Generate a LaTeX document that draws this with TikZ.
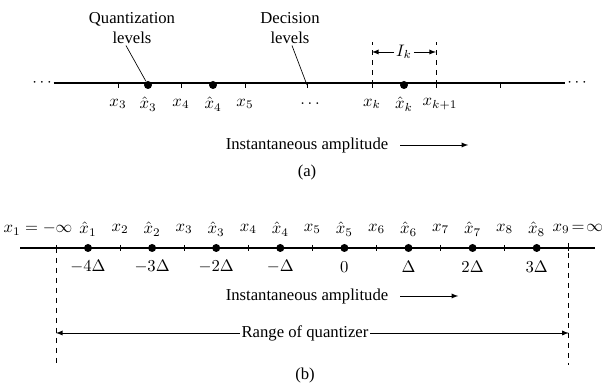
\documentclass[tikz,border=0pt]{standalone}
\usepackage{fontspec}
\setmainfont{Liberation Serif}
\usetikzlibrary{arrows,positioning,calc}

\begin{document}
\begin{tikzpicture}[x=0.6pt, y=-0.6pt,
    level/.style={circle, fill, inner sep=0pt, minimum size=4.8pt},
    axis/.style={line width=1pt},
    lbl/.style={inner sep=1pt},
    arrow/.style={-latex, thin},
    guide/.style={dashed, thin}
]
    \useasboundingbox (0,0) rectangle (605,387);

    % (a) general quantizer
    \node[lbl] (dotsLa) at (42,83) {$\cdots$};
    \node[lbl] (dotsRa) at (577,83) {$\cdots$};
    \draw[axis] (dotsLa.east) -- (dotsRa.west);
    \foreach \x in {118,181,245,307,372,436,500}
        \draw (\x,82) -- (\x,88);
    \node[level] (q3) at (148,85) {};
    \node[level] (q4) at (213,85) {};
    \node[level] (qk) at (404,85) {};
    \coordinate (dec) at (307,85);
    \coordinate (dk) at (372,85);
    \coordinate (dk1) at (436,85);

    \node[lbl] at (118,104) {$x_3$};
    \node[lbl] at (148,104) {$\hat{x}_3$};
    \node[lbl] at (181,104) {$x_4$};
    \node[lbl] at (213,104) {$\hat{x}_4$};
    \node[lbl] at (245,104) {$x_5$};
    \node[lbl] at (310,104) {$\ldots$};
    \node[lbl] at (372,104) {$x_k$};
    \node[lbl] at (404,104) {$\hat{x}_k$};
    \node[lbl] at (440,104) {$x_{k+1}$};

    \node[lbl, align=center] (quant) at (132,28) {Quantization\\levels};
    \node[lbl, align=center] (decis) at (290,28) {Decision\\levels};
    \draw ($(quant.south)+(-6,0)$) -- (q3);
    \draw ($(decis.south)+(2,0)$) -- (dec);

    \draw[guide] (dk) -- ++(0,-43) coordinate (dkt);
    \draw[guide] (dk1) -- ++(0,-43) coordinate (dk1t);
    \node[lbl] (Ik) at (404,52) {$I_k$};
    \draw[arrow] (Ik.west) -- (Ik.west -| dk);
    \draw[arrow] (Ik.east) -- (Ik.east -| dk1);

    \node[lbl] (ampa) at (307,145) {Instantaneous amplitude};
    \draw[arrow] ($(ampa.east)+(10,0)$) -- ++(68,0);
    \node[lbl] (capa) at (307,173) {(a)};

    % (b) uniform quantizer
    \draw[axis] (20,248) -- (595,248);
    \foreach \i in {1,...,8} {
        \node[level] (h\i) at ({88+64.1*(\i-1)},248) {};
        \node[lbl] at ({88+64.1*(\i-1)},229) {$\hat{x}_{\i}$};
    }
    \foreach \i in {1,...,9}
        \draw ({56+64.1*(\i-1)},245) -- ({56+64.1*(\i-1)},251);
    \foreach \i in {2,...,8}
        \node[lbl] at ({56+64.1*(\i-1)},229) {$x_{\i}$};
    \coordinate (b1) at (56,248);
    \coordinate (b9) at (568.8,248);
    \node[lbl] at (38,229) {$x_1=-\infty$};
    \node[lbl, anchor=east] at (605,229) {$x_9\!=\!\infty$};

    \foreach \i/\t in {1/{-4\Delta},2/{-3\Delta},3/{-2\Delta},4/{-\Delta},5/{0},6/{\Delta},7/{2\Delta},8/{3\Delta}}
        \node[lbl] at ($(h\i)+(0,19)$) {$\t$};

    \draw[guide] (b1) -- ++(0,117) coordinate (b1b);
    \draw[guide] ($(b9)+(0,-5)$) -- ++(0,122) coordinate (b9b);

    \node[lbl] (ampb) at (307,296) {Instantaneous amplitude};
    \draw[arrow] ($(ampb.east)+(10,0)$) -- ++(58,0);

    \node[lbl] (range) at (305,333) {Range of quantizer};
    \draw[arrow] (range.west) -- (range.west -| b1);
    \draw[arrow] (range.east) -- (range.east -| b9);
    \node[lbl] (capb) at (305,375) {(b)};
\end{tikzpicture}
\end{document}
